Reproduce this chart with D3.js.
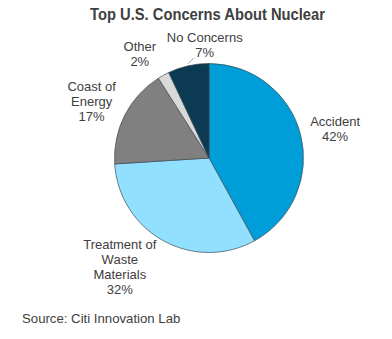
<!DOCTYPE html>
<html>
<head>
<meta charset="utf-8">
<script src="https://cdn.jsdelivr.net/npm/d3@7"></script>
<style>
  body { margin: 0; background: #fff; }
  text { font-family: "Liberation Sans", Arial, sans-serif; fill: #404040; }
</style>
</head>
<body>
<div id="chart"></div>
<script>
// data
const categories = ["Accident", "Treatment of Waste Materials", "Coast of Energy", "Other", "No Concerns"];
const values = [42, 32, 17, 2, 7];
const labelLines = [["Accident"], ["Treatment of", "Waste", "Materials"], ["Coast of", "Energy"], ["Other"], ["No Concerns"]];
const colors = ["#009ed8", "#91e0ff", "#808080", "#d9d9d9", "#0c3a53"];

const width = 392, height = 339;
const cx = 209, cy = 158, radius = 94.5;
const labelRadius = 125;
// small nudges for the label blocks (like the hand-placed excel labels)
const nudge = {
    "Accident": [5, 2],
    "Treatment of Waste Materials": [-29, -1],
    "Coast of Energy": [-6, 0],
    "Other": [-9, 6],
    "No Concerns": [23, 8.5]
};
const lineHeight = 15;

const rows = categories.map((c, i) => ({name: c, value: values[i], lines: labelLines[i], color: colors[i]}));

const svg = d3.select("#chart").append("svg")
    .attr("width", width)
    .attr("height", height);

// title
svg.append("text")
    .attr("x", 207.5)
    .attr("y", 20)
    .attr("text-anchor", "middle")
    .attr("font-size", 16)
    .attr("font-weight", "bold")
    .attr("textLength", 235)
    .attr("lengthAdjust", "spacingAndGlyphs")
    .text("Top U.S. Concerns About Nuclear");

const pie = d3.pie().sort(null).value(d => d.value);
const arc = d3.arc().innerRadius(0).outerRadius(radius);
const labelArc = d3.arc().innerRadius(labelRadius).outerRadius(labelRadius);

const g = svg.append("g").attr("transform", `translate(${cx}, ${cy})`);
const arcs = pie(rows);

g.selectAll("path.slice")
    .data(arcs)
    .enter()
    .append("path")
        .attr("class", "slice")
        .attr("d", arc)
        .attr("fill", d => d.data.color)
        .attr("stroke", "#3d4a52")
        .attr("stroke-width", 0.7);

// leader line for the small slice
const nc = arcs.find(d => d.data.name === "No Concerns");
const mid = (nc.startAngle + nc.endAngle) / 2;
const lx = Math.sin(mid) * (radius + 2), ly = -Math.cos(mid) * (radius + 2);
g.append("line")
    .attr("x1", lx).attr("y1", ly)
    .attr("x2", lx + 6).attr("y2", ly - 6)
    .attr("stroke", "#8c8c8c")
    .attr("stroke-width", 0.8);

// labels
const labels = g.selectAll("text.label")
    .data(arcs)
    .enter()
    .append("text")
        .attr("class", "label")
        .attr("text-anchor", "middle")
        .attr("font-size", 13)
        .attr("transform", d => {
            const [x, y] = labelArc.centroid(d);
            const n = nudge[d.data.name];
            return `translate(${x + n[0]}, ${y + n[1]})`;
        });

labels.each(function(d) {
    const lines = d.data.lines.concat([d.data.value + "%"]);
    const top = -(lines.length - 1) * lineHeight / 2;
    d3.select(this).selectAll("tspan")
        .data(lines)
        .enter()
        .append("tspan")
            .attr("x", 0)
            .attr("y", (l, i) => top + i * lineHeight + 4.5)
            .text(l => l);
});

// source
svg.append("text")
    .attr("x", 22)
    .attr("y", 323)
    .attr("font-size", 13.2)
    .text("Source: Citi Innovation Lab");
</script>
</body>
</html>
